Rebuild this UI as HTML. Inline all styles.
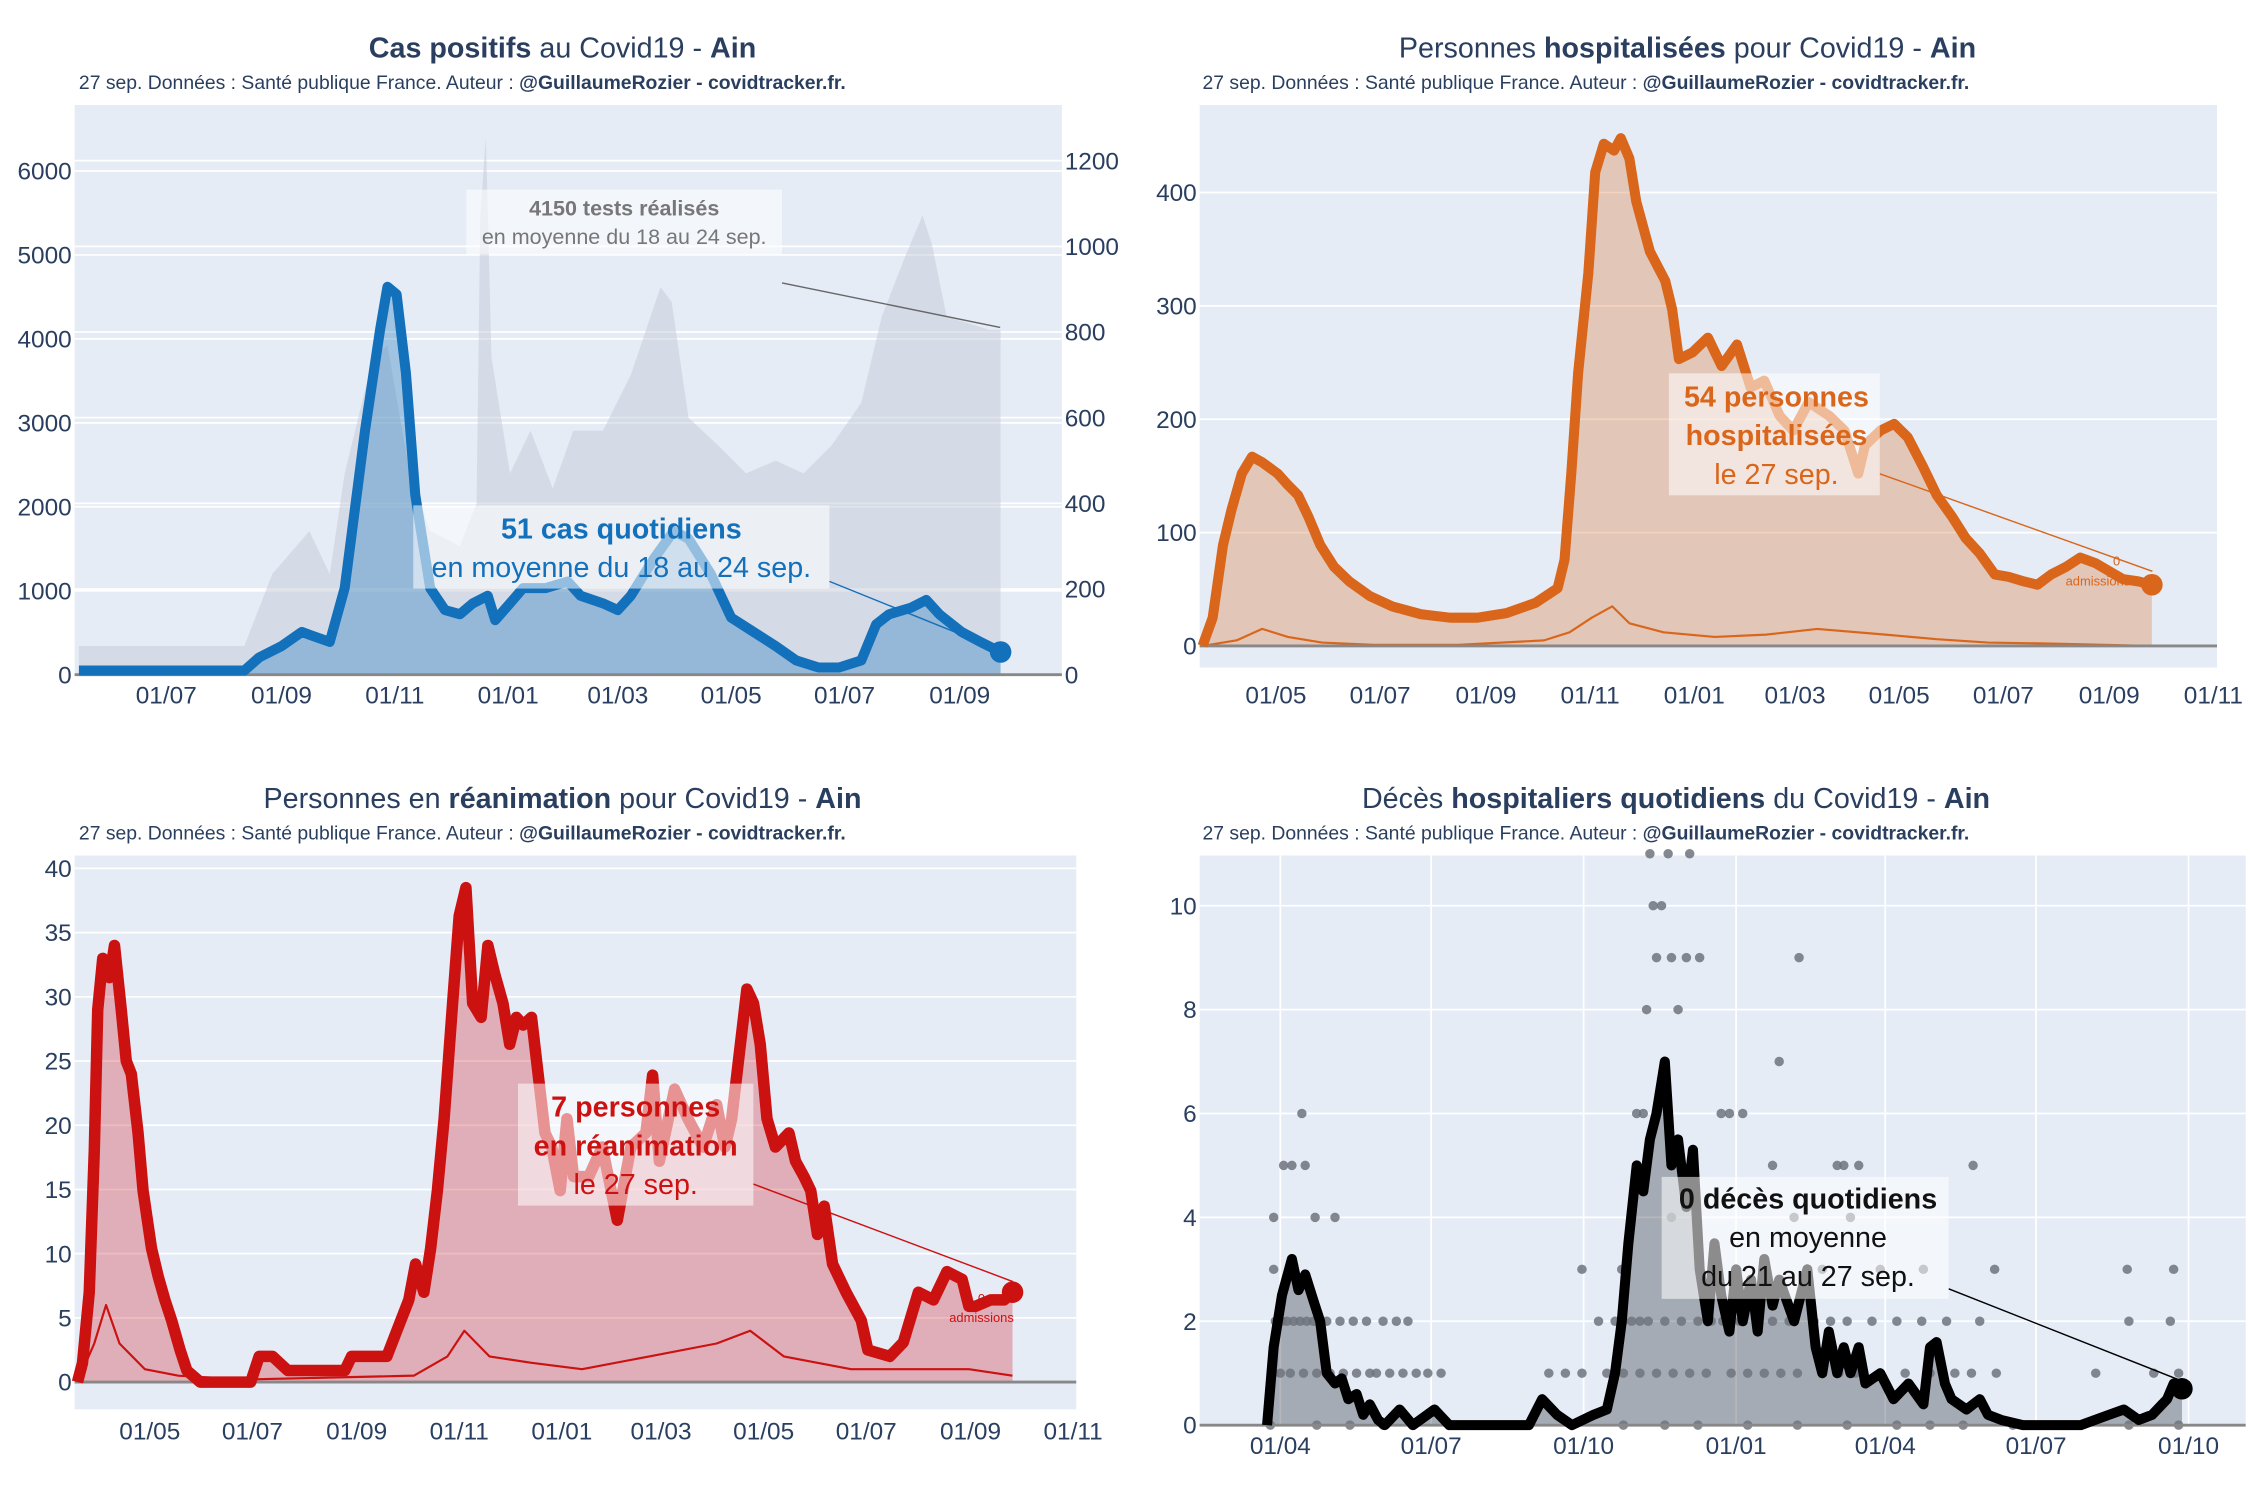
<!DOCTYPE html>
<html><head><meta charset="utf-8"><title>Covid19 - Ain</title>
<style>
html,body{margin:0;padding:0;background:#fff;}
svg{display:block;font-family:"Liberation Sans",sans-serif;}
</style></head>
<body>
<svg id="chart" width="2250" height="1500" viewBox="0 0 1568 1045" xmlns="http://www.w3.org/2000/svg">
<rect x="0" y="0" width="1568" height="1045" fill="#fff"/>
<rect x="52" y="73" width="688" height="397" fill="#e5ecf6"/>
<rect x="836" y="73" width="709" height="392" fill="#e5ecf6"/>
<rect x="52" y="596" width="698" height="386" fill="#e5ecf6"/>
<rect x="836" y="596" width="729" height="397" fill="#e5ecf6"/>
<g fill="#2a3f5f">
<text x="392" y="40" text-anchor="middle" font-size="20"><tspan font-weight="bold">Cas positifs</tspan> au Covid19 - <tspan font-weight="bold">Ain</tspan></text>
<text x="55" y="62" font-size="13.5">27 sep. Données : Santé publique France. Auteur : <tspan font-weight="bold">@GuillaumeRozier - covidtracker.fr.</tspan></text>
<text x="1176" y="40" text-anchor="middle" font-size="20">Personnes <tspan font-weight="bold">hospitalisées</tspan> pour Covid19 - <tspan font-weight="bold">Ain</tspan></text>
<text x="838" y="62" font-size="13.5">27 sep. Données : Santé publique France. Auteur : <tspan font-weight="bold">@GuillaumeRozier - covidtracker.fr.</tspan></text>
<text x="392" y="563" text-anchor="middle" font-size="20">Personnes en <tspan font-weight="bold">réanimation</tspan> pour Covid19 - <tspan font-weight="bold">Ain</tspan></text>
<text x="55" y="585" font-size="13.5">27 sep. Données : Santé publique France. Auteur : <tspan font-weight="bold">@GuillaumeRozier - covidtracker.fr.</tspan></text>
<text x="1168" y="563" text-anchor="middle" font-size="20">Décès <tspan font-weight="bold">hospitaliers quotidiens</tspan> du Covid19 - <tspan font-weight="bold">Ain</tspan></text>
<text x="838" y="585" font-size="13.5">27 sep. Données : Santé publique France. Auteur : <tspan font-weight="bold">@GuillaumeRozier - covidtracker.fr.</tspan></text>
</g>
<g id="layer"></g>
</svg>
<script>
// ---- Panel 1: cases (day offset from 2020-05-15) ----
const casesDays = [0,89,97,109,120,126,135,143,154,162,166,171,176,181,189,197,205,212,220,224,232,239,251,263,270,282,290,297,309,320,328,340,351,363,375,386,398,409,421,429,436,448,456,463,475,486,496];
const casesVals = [50,50,205,340,510,460,390,1030,2910,4100,4620,4530,3590,2140,1030,770,720,850,940,650,850,1030,1030,1110,940,850,770,940,1370,1710,1620,1200,680,510,340,170,85,85,170,600,720,800,890,720,510,380,270];
const testsDays = [0,89,104,124,135,143,158,166,178,189,205,214,216,219,222,232,243,255,266,282,297,313,319,328,344,359,375,390,405,421,432,444,454,459,467,479,490,496];
const testsVals = [67,67,235,335,235,470,737,770,470,335,300,400,1070,1256,740,470,570,435,570,570,700,905,870,600,535,470,500,470,535,635,835,970,1072,1005,835,820,805,805];
const casesLeftTicks = [0,1000,2000,3000,4000,5000,6000];
const casesRightTicks = [0,200,400,600,800,1000,1200];
const casesXTickDays = [47,109,170,231,290,351,412,474];
const casesXTickLabels = ["01/07","01/09","01/11","01/01","01/03","01/05","01/07","01/09"];
// ---- Panel 2: hospitalisations (day offset from 2020-03-19) ----
const hospDays = [0,6,12,17,23,29,35,44,50,56,62,69,77,86,98,111,128,145,161,178,195,208,212,216,220,226,230,235,241,245,250,254,262,271,275,279,287,296,304,313,321,329,338,346,355,367,376,384,388,397,405,413,422,430,439,447,455,464,472,481,489,497,506,514,523,531,539,548,556];
const hospVals = [0,25,89,120,152,167,162,152,142,133,114,89,70,57,44,35,28,25,25,29,38,51,76,152,241,329,418,443,437,448,430,392,348,322,297,253,259,272,247,266,228,234,203,190,215,203,190,152,177,190,196,184,158,133,114,95,82,63,61,57,54,63,70,78,73,66,59,57,54];
const admDays = [0,20,35,50,70,100,150,200,215,228,240,250,270,300,330,360,400,430,460,500,556];
const admVals = [0,5,15,8,3,1,1,5,12,25,35,20,12,8,10,15,10,6,3,2,0];
const hospTicks = [0,100,200,300,400];
const midXTickDays = [43,104,166,227,288,347,408,469,531,592];
const midXTickLabels = ["01/05","01/07","01/09","01/11","01/01","01/03","01/05","01/07","01/09","01/11"];
// ---- Panel 3: ICU (day offset from 2020-03-19) ----
const icuDays = [0,3,7,10,12,15,19,22,26,29,32,36,39,44,48,52,56,61,65,73,103,108,116,125,159,163,184,189,197,201,206,210,214,218,223,227,231,235,240,244,248,253,257,261,265,270,274,278,282,287,291,295,304,312,321,329,338,342,346,355,363,372,380,385,389,393,398,402,406,410,415,423,427,432,436,440,444,449,457,466,470,483,491,500,509,517,526,530,534,543,551,556];
const icuVals = [0,1.5,7,18,29,33,31.5,34,29,25,24,19.4,14.9,10.4,8.2,6.4,4.8,2.5,0.9,0,0,2,2,0.9,0.9,2,2,3.7,6.4,9.2,7,10.4,14.9,20.5,29.5,36.3,38.5,29.5,28.4,34,31.8,29.5,26.3,28.4,27.8,28.4,23.9,19.4,18.3,14.9,20.5,16,16,18.3,12.6,18.3,19.4,23.9,17.2,22.8,20.5,18.3,21.6,18.3,20.5,25,30.6,29.5,26.3,20.5,18.3,19.4,17.2,16,14.9,11.5,13.7,9.2,7,4.8,2.5,2,3.1,7,6.4,8.6,8,5.9,5.9,6.4,6.4,7];
const icuAdmDays = [0,10,17,25,40,60,100,200,220,230,245,270,300,340,380,400,420,460,500,530,556];
const icuAdmVals = [0,3,6,3,1,0.5,0.2,0.5,2,4,2,1.5,1,2,3,4,2,1,1,1,0.5];
const icuTicks = [0,5,10,15,20,25,30,35,40];
// ---- Panel 4: deaths (day offset from 2020-03-24) ----
const deathDays = [0,4,9,15,19,23,28,32,36,41,45,49,54,58,62,67,71,80,88,101,110,158,166,175,184,197,205,210,214,218,223,227,231,235,240,244,248,253,257,261,266,270,274,279,283,287,292,296,300,305,309,318,326,331,335,339,344,348,352,357,361,370,378,387,396,400,404,409,413,422,430,435,443,456,491,508,517,526,534,543,547,552];
const deathVals = [0,1.5,2.5,3.2,2.6,2.9,2.4,2.0,1.0,0.8,0.9,0.5,0.6,0.2,0.4,0.1,0,0.3,0,0.3,0,0,0.5,0.2,0,0.2,0.3,1.0,2.0,3.5,5.0,4.5,5.5,6.0,7.0,5.0,5.5,4.2,5.3,3.0,2.0,3.5,2.5,1.8,3.0,2.0,2.8,1.8,3.2,2.3,2.8,2.0,3.0,1.5,1.0,1.8,1.0,1.5,1.0,1.5,0.8,1.0,0.5,0.8,0.4,1.5,1.6,0.8,0.5,0.3,0.5,0.2,0.1,0,0,0.2,0.3,0.1,0.2,0.5,0.8,0.7];
const dailyDeathDays = [231,242,255,233,238,235,244,253,261,321,229,248,309,240,223,227,274,279,287,21,10,15,23,305,344,348,357,426,4,29,41,244,318,352,190,396,439,519,547,4,214,270,335,370];
const dailyDeathVals = [11,11,11,10,10,9,9,9,9,9,8,8,7,7,6,6,6,6,6,6,5,5,5,5,5,5,5,5,4,4,4,4,4,4,3,3,3,3,3,3,3,3,3,3];
const deathTwoDays = [5,9,12,16,20,24,28,32,36,44,52,60,70,78,85,200,210,215,220,225,230,240,250,260,268,275,285,295,305,315,330,340,350,365,380,395,410,430,520,545];
const deathOneDays = [4,8,14,22,30,38,46,54,62,66,74,82,90,97,105,170,180,190,205,215,225,235,245,255,265,280,290,300,310,320,335,345,355,370,385,400,415,425,440,500,535,550];
const deathZeroDays = [2,30,50,70,120,140,215,240,260,290,320,350,380,400,420,450,480,520,550];
const deathTicks = [0,2,4,6,8,10];
const deathXTickDays = [8,99,191,283,373,464,556];
const deathXTickLabels = ["01/04","01/07","01/10","01/01","01/04","01/07","01/10"];

const NS = "http://www.w3.org/2000/svg";
const layer = document.getElementById('layer');
function mk(tag, attrs, name, parent) {
  const el = document.createElementNS(NS, tag);
  for (const k in attrs) el.setAttribute(k, attrs[k]);
  
  
  (parent || layer).appendChild(el);
  return el;
}
function txt(x, y, s, name, opts) {
  const t = mk('text', Object.assign({x: x, y: y, 'font-size': 16, fill: '#2a3f5f'}, opts || {}), name);
  t.textContent = s;
  return t;
}
function pts(days, vals, sx, sy) { return days.map((d, i) => sx(d).toFixed(1) + ',' + sy(vals[i]).toFixed(1)).join(' '); }
function area(days, vals, sx, sy, base, fill, name) {
  const p = pts(days, vals, sx, sy) + ' ' + sx(days[days.length - 1]).toFixed(1) + ',' + base + ' ' + sx(days[0]).toFixed(1) + ',' + base;
  mk('polygon', {points: p, fill: fill}, name);
}
function line(days, vals, sx, sy, color, w, name) {
  mk('polyline', {points: pts(days, vals, sx, sy), fill: 'none', stroke: color, 'stroke-width': w, 'stroke-linejoin': 'round'}, name);
}
function hgrid(ticks, sy, x0, x1, name) {
  ticks.forEach(t => mk('line', {x1: x0, x2: x1, y1: sy(t), y2: sy(t), stroke: '#fff', 'stroke-width': 1.2}, name));
}
function ytick(ticks, sy, x, anchor, name) {
  ticks.forEach(t => txt(x, sy(t) + 6, String(t), name, {'text-anchor': anchor, 'font-size': 17}));
}
function xtick(days, labels, sx, y, name) {
  days.forEach((d, i) => txt(sx(d), y, labels[i], name, {'text-anchor': 'middle', 'font-size': 17}));
}
function box(x, y, w, h, name) { mk('rect', {x: x, y: y, width: w, height: h, fill: 'rgba(255,255,255,0.55)'}, name); }

// Panel 1
const x1 = d => 55 + d * 1.295, yl1 = v => 470 - v * 0.0585, yr1 = v => 470 - v * 0.2985;
hgrid(casesLeftTicks.slice(1), yl1, 52, 740, 'cases-gridline');
hgrid(casesRightTicks.slice(1), yr1, 52, 740, 'tests-gridline');
area(testsDays, testsVals, x1, yr1, 470, 'rgba(200,206,216,0.55)', 'tests-area');
area(casesDays, casesVals, x1, yl1, 470, 'rgba(31,119,190,0.35)', 'cases-area');
mk('line', {x1: 52, x2: 740, y1: 470, y2: 470, stroke: '#888', 'stroke-width': 2}, 'cases-zero-line');
line(casesDays, casesVals, x1, yl1, '#1370bb', 7, 'cases-line');
mk('circle', {cx: x1(casesDays[casesDays.length-1]), cy: yl1(casesVals[casesVals.length-1]), r: 7.5, fill: '#1370bb'}, 'cases-end-marker');
ytick(casesLeftTicks, yl1, 50, 'end', 'cases-y-tick');
ytick(casesRightTicks, yr1, 742, 'start', 'tests-y-tick');
xtick(casesXTickDays, casesXTickLabels, x1, 490, 'cases-x-tick');
mk('line', {x1: 545, y1: 197, x2: 697, y2: 228, stroke: '#666', 'stroke-width': 1}, 'tests-annotation-arrow');
box(325, 132, 220, 45, 'tests-annotation-box');
txt(435, 150, '4150 tests réalisés', 'tests-annotation-title', {'text-anchor': 'middle', 'font-size': 15, 'font-weight': 'bold', fill: '#777'});
txt(435, 170, 'en moyenne du 18 au 24 sep.', 'tests-annotation-sub', {'text-anchor': 'middle', 'font-size': 15, fill: '#777'});
mk('line', {x1: 578, y1: 405, x2: 697, y2: 453, stroke: '#1370bb', 'stroke-width': 1}, 'cases-annotation-arrow');
box(288, 352, 290, 58, 'cases-annotation-box');
txt(433, 375, '51 cas quotidiens', 'cases-annotation-title', {'text-anchor': 'middle', 'font-size': 20, 'font-weight': 'bold', fill: '#1370bb'});
txt(433, 402, 'en moyenne du 18 au 24 sep.', 'cases-annotation-sub', {'text-anchor': 'middle', 'font-size': 20, fill: '#1370bb'});

// Panel 2
const x2 = d => 838 + d * 1.19, y2 = v => 450 - v * 0.79;
hgrid(hospTicks.slice(1), y2, 836, 1545, 'hosp-gridline');
area(hospDays, hospVals, x2, y2, 450, 'rgba(217,110,40,0.3)', 'hosp-area');
line(admDays, admVals, x2, y2, '#d9661a', 1.5, 'hosp-admissions-line');
mk('line', {x1: 836, x2: 1545, y1: 450, y2: 450, stroke: '#888', 'stroke-width': 2}, 'hosp-zero-line');
line(hospDays, hospVals, x2, y2, '#d9661a', 7, 'hosp-line');
mk('circle', {cx: x2(hospDays[hospDays.length-1]), cy: y2(hospVals[hospVals.length-1]), r: 7.5, fill: '#d9661a'}, 'hosp-end-marker');
ytick(hospTicks, y2, 834, 'end', 'hosp-y-tick');
xtick(midXTickDays, midXTickLabels, x2, 490, 'hosp-x-tick');
mk('line', {x1: 1310, y1: 330, x2: 1500, y2: 398, stroke: '#d9661a', 'stroke-width': 1}, 'hosp-annotation-arrow');
txt(1475, 394, '0', 'hosp-admissions-label', {'text-anchor': 'middle', 'font-size': 9, fill: '#d9661a'});
txt(1462, 408, 'admissions', 'hosp-admissions-label', {'text-anchor': 'middle', 'font-size': 9, fill: '#d9661a'});
box(1163, 260, 147, 85, 'hosp-annotation-box');
txt(1238, 283, '54 personnes', 'hosp-annotation-title', {'text-anchor': 'middle', 'font-size': 20, 'font-weight': 'bold', fill: '#d9661a'});
txt(1238, 310, 'hospitalisées', 'hosp-annotation-title2', {'text-anchor': 'middle', 'font-size': 20, 'font-weight': 'bold', fill: '#d9661a'});
txt(1238, 337, 'le 27 sep.', 'hosp-annotation-sub', {'text-anchor': 'middle', 'font-size': 20, fill: '#d9661a'});

// Panel 3
const x3 = d => 54 + d * 1.172, y3 = v => 963 - v * 8.95;
hgrid(icuTicks.slice(1), y3, 52, 750, 'icu-gridline');
area(icuDays, icuVals, x3, y3, 963, 'rgba(210,30,40,0.3)', 'icu-area');
line(icuAdmDays, icuAdmVals, x3, y3, '#cc1111', 1.5, 'icu-admissions-line');
mk('line', {x1: 52, x2: 750, y1: 963, y2: 963, stroke: '#888', 'stroke-width': 2}, 'icu-zero-line');
line(icuDays, icuVals, x3, y3, '#cc1111', 8, 'icu-line');
mk('circle', {cx: x3(icuDays[icuDays.length-1]), cy: y3(icuVals[icuVals.length-1]), r: 7.5, fill: '#cc1111'}, 'icu-end-marker');
ytick(icuTicks, y3, 50, 'end', 'icu-y-tick');
xtick(midXTickDays, midXTickLabels, x3, 1003, 'icu-x-tick');
mk('line', {x1: 525, y1: 825, x2: 706, y2: 893, stroke: '#cc1111', 'stroke-width': 1}, 'icu-annotation-arrow');
txt(684, 908, '0', 'icu-admissions-label', {'text-anchor': 'middle', 'font-size': 9, fill: '#cc1111'});
txt(684, 921, 'admissions', 'icu-admissions-label', {'text-anchor': 'middle', 'font-size': 9, fill: '#cc1111'});
box(361, 755, 164, 85, 'icu-annotation-box');
txt(443, 778, '7 personnes', 'icu-annotation-title', {'text-anchor': 'middle', 'font-size': 20, 'font-weight': 'bold', fill: '#cc1111'});
txt(443, 805, 'en réanimation', 'icu-annotation-title2', {'text-anchor': 'middle', 'font-size': 20, 'font-weight': 'bold', fill: '#cc1111'});
txt(443, 832, 'le 27 sep.', 'icu-annotation-sub', {'text-anchor': 'middle', 'font-size': 20, fill: '#cc1111'});

// Panel 4
const x4 = d => 883 + d * 1.155, y4 = v => 993 - v * 36.2;
hgrid(deathTicks.slice(1), y4, 836, 1565, 'deaths-gridline');
deathXTickDays.forEach(d => mk('line', {x1: x4(d), x2: x4(d), y1: 596, y2: 993, stroke: '#fff', 'stroke-width': 1.2}, 'deaths-vgridline'));
area(deathDays, deathVals, x4, y4, 993, 'rgba(60,65,75,0.38)', 'deaths-area');
function dot(d, v) { mk('circle', {cx: x4(d), cy: y4(v), r: 3.3, fill: 'rgba(110,115,125,0.85)'}, 'daily-death-dot'); }
dailyDeathDays.forEach((d, i) => dot(d, dailyDeathVals[i]));
deathTwoDays.forEach(d => dot(d, 2));
deathOneDays.forEach(d => dot(d, 1));
deathZeroDays.forEach(d => dot(d, 0));
mk('line', {x1: 836, x2: 1565, y1: 993, y2: 993, stroke: '#888', 'stroke-width': 2}, 'deaths-zero-line');
line(deathDays, deathVals, x4, y4, '#000', 7, 'deaths-line');
mk('circle', {cx: x4(deathDays[deathDays.length-1]), cy: y4(deathVals[deathVals.length-1]), r: 7.5, fill: '#000'}, 'deaths-end-marker');
ytick(deathTicks, y4, 834, 'end', 'deaths-y-tick');
xtick(deathXTickDays, deathXTickLabels, x4, 1013, 'deaths-x-tick');
mk('line', {x1: 1358, y1: 898, x2: 1520, y2: 962, stroke: '#000', 'stroke-width': 1}, 'deaths-annotation-arrow');
box(1158, 820, 200, 85, 'deaths-annotation-box');
txt(1260, 842, '0 décès quotidiens', 'deaths-annotation-title', {'text-anchor': 'middle', 'font-size': 20, 'font-weight': 'bold', fill: '#111'});
txt(1260, 869, 'en moyenne', 'deaths-annotation-sub', {'text-anchor': 'middle', 'font-size': 20, fill: '#111'});
txt(1260, 896, 'du 21 au 27 sep.', 'deaths-annotation-sub2', {'text-anchor': 'middle', 'font-size': 20, fill: '#111'});
</script>
</body></html>
